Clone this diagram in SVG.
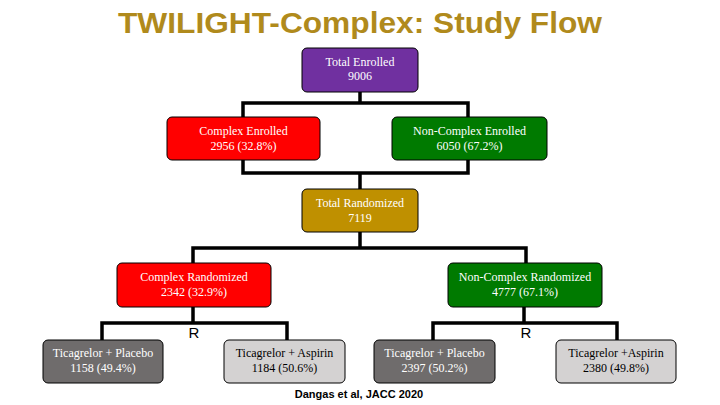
<svg xmlns="http://www.w3.org/2000/svg" width="720" height="405" viewBox="0 0 720 405">
<style>
.box{stroke:#000;stroke-width:1}
.t{font-family:"Liberation Serif","Times New Roman",serif;font-size:12px;text-anchor:middle;fill:#fff}
.dk{fill:#000}
.conn{fill:none;stroke:#000;stroke-width:3.5}
.r{font-family:"Liberation Sans",Arial,sans-serif;font-size:15px;text-anchor:middle;fill:#000}
</style>
<rect width="720" height="405" fill="#fff"/>
<text x="360" y="33" font-family="Liberation Sans,Arial,sans-serif" font-weight="bold" font-size="29" fill="#B08A1C" text-anchor="middle" textLength="484" lengthAdjust="spacingAndGlyphs">TWILIGHT-Complex: Study Flow</text>
<g id="connectors">
<path class="conn" d="M360 92 V103 M243 117 V103 H468 V117"/>
<path class="conn" d="M243 160 V173 H468 V160 M360 173 V189"/>
<path class="conn" d="M360 232 V248 M193 263 V248 H526 V263"/>
<path class="conn" d="M193 307 V323 M102 340 V323 H287 V340"/>
<path class="conn" d="M524 307 V323 M433 340 V323 H617 V340"/>
</g>
<g id="total-enrolled">
<rect class="box" x="302" y="48" width="116" height="44" rx="5" fill="#7030A0"/>
<text class="t" x="360" y="66">Total Enrolled</text>
<text class="t" x="360" y="80">9006</text>
</g>
<g id="complex-enrolled">
<rect class="box" x="167" y="117" width="153" height="43" rx="5" fill="#FF0000"/>
<text class="t" x="243.5" y="135">Complex Enrolled</text>
<text class="t" x="243.5" y="150">2956 (32.8%)</text>
</g>
<g id="noncomplex-enrolled">
<rect class="box" x="392" y="117" width="155" height="43" rx="5" fill="#007A00"/>
<text class="t" x="469.5" y="135">Non-Complex Enrolled</text>
<text class="t" x="469.5" y="150">6050 (67.2%)</text>
</g>
<g id="total-randomized">
<rect class="box" x="302" y="189" width="116" height="43" rx="5" fill="#BF9000"/>
<text class="t" x="360" y="207">Total Randomized</text>
<text class="t" x="360" y="222">7119</text>
</g>
<g id="complex-randomized">
<rect class="box" x="117" y="263" width="154" height="44" rx="5" fill="#FF0000"/>
<text class="t" x="194" y="281">Complex Randomized</text>
<text class="t" x="194" y="296">2342 (32.9%)</text>
</g>
<g id="noncomplex-randomized">
<rect class="box" x="448" y="263" width="154" height="44" rx="5" fill="#007A00"/>
<text class="t" x="525" y="281">Non-Complex Randomized</text>
<text class="t" x="525" y="296">4777 (67.1%)</text>
</g>
<text class="r" x="194" y="338">R</text>
<text class="r" x="526" y="338">R</text>
<g id="complex-placebo">
<rect class="box" x="43" y="340" width="120" height="43" rx="5" fill="#6F6C6C"/>
<text class="t" x="103" y="357">Ticagrelor + Placebo</text>
<text class="t" x="103" y="372">1158 (49.4%)</text>
</g>
<g id="complex-aspirin">
<rect class="box" x="224" y="340" width="121" height="43" rx="5" fill="#D4D2D2"/>
<text class="t dk" x="284.5" y="357">Ticagrelor + Aspirin</text>
<text class="t dk" x="284.5" y="372">1184 (50.6%)</text>
</g>
<g id="noncomplex-placebo">
<rect class="box" x="374" y="340" width="121" height="43" rx="5" fill="#6F6C6C"/>
<text class="t" x="434.5" y="357">Ticagrelor + Placebo</text>
<text class="t" x="434.5" y="372">2397 (50.2%)</text>
</g>
<g id="noncomplex-aspirin">
<rect class="box" x="556" y="340" width="120" height="43" rx="5" fill="#D4D2D2"/>
<text class="t dk" x="616" y="357">Ticagrelor +Aspirin</text>
<text class="t dk" x="616" y="372">2380 (49.8%)</text>
</g>
<text x="359" y="398" font-family="Liberation Sans,Arial,sans-serif" font-weight="bold" font-size="11" fill="#000" text-anchor="middle">Dangas et al, JACC 2020</text>
</svg>
